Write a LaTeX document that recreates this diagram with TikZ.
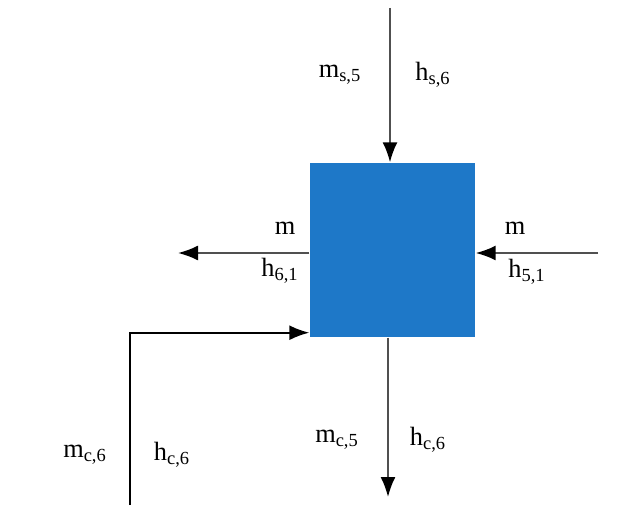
\documentclass[tikz,border=0pt]{standalone}
\usepackage{fontspec}
\setmainfont{Liberation Serif}
\usetikzlibrary{arrows.meta,positioning}
\definecolor{boxblue}{RGB}{30,120,200}
\definecolor{flowgray}{RGB}{80,80,80}
\tikzset{
    flow/.style={draw=flowgray, line width=1.1pt, -{Latex[length=0.4cm,width=0.3cm,color=black]}},
    lbl/.style={font=\fontsize{15}{17}\selectfont, inner sep=1pt}
}
\begin{document}
\begin{tikzpicture}[thick]
    \useasboundingbox (0,0) rectangle (12.5,10.1);
    % The control volume
    \node (box) [fill=boxblue, minimum width=3.3cm, minimum height=3.48cm, inner sep=0pt] at (7.85,5.1) {};

    % free ends of the streams
    \coordinate (sin) at (7.8,9.94);
    \coordinate (lout) at (3.56,5.04);
    \coordinate (rin) at (11.96,5.04);
    \coordinate (cin) at (2.6,0);
    \coordinate (cout) at (7.76,0.16);

    \draw[flow] (sin) -- (sin |- box.north);
    \draw[flow] (box.west |- lout) -- (lout);
    \draw[flow] (rin) -- (box.east |- rin);
    \draw[flow, draw=black] (cin) |- ([yshift=0.1cm]box.south west);
    \draw[flow] (cout |- box.south) -- (cout);

    % labels
    \node (ms5) [lbl] at (6.8,8.6) {m\textsubscript{s,5}};
    \node (hs6) [lbl] at (8.66,8.6) {h\textsubscript{s,6}};
    \node (ml) [lbl] at (5.7,5.54) {m};
    \node (h61) [lbl] at (5.6,4.68) {h\textsubscript{6,1}};
    \node (mr) [lbl] at (10.3,5.54) {m};
    \node (h51) [lbl] at (10.54,4.66) {h\textsubscript{5,1}};
    \node (mc6) [lbl] at (1.7,1.0) {m\textsubscript{c,6}};
    \node (hc6) [lbl] at (3.44,1.0) {h\textsubscript{c,6}};
    \node (mc5) [lbl] at (6.74,1.3) {m\textsubscript{c,5}};
    \node (hc6b) [lbl] at (8.56,1.3) {h\textsubscript{c,6}};
\end{tikzpicture}
\end{document}
